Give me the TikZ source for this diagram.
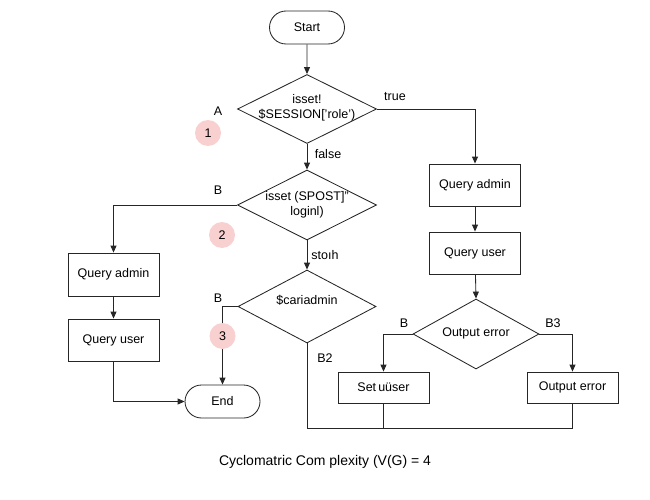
\documentclass[tikz,border=0pt]{standalone}
\usepackage{fontspec}
\setmainfont{Liberation Sans}
\usetikzlibrary{shapes.geometric,shapes.misc,arrows.meta}
\definecolor{numpink}{RGB}{249,208,208}
\begin{document}
\begin{tikzpicture}[x=1pt,y=-1pt,
  font=\fontsize{12.5}{14.5}\selectfont,
  line/.style={draw=black!85, line width=0.85pt},
  arr/.style={line, -{Triangle[length=7pt,width=6pt]}},
  term/.style={draw=black!85, line width=0.85pt, rounded rectangle, minimum width=75pt, minimum height=33pt, inner sep=0pt},
  procbox/.style={draw=black!85, line width=0.85pt, rectangle, minimum width=91pt, inner sep=0pt},
  dia/.style={draw=black!85, line width=0.85pt, diamond, inner sep=0pt},
  dtext/.style={align=center, inner sep=0pt},
  lbl/.style={inner sep=0pt},
  num/.style={circle, fill=numpink, minimum size=26pt, inner sep=0pt}
]
\useasboundingbox (0,0) rectangle (650,500);
% nodes
\node[term] (start) at (307,27.5) {Start};
\node[dia, minimum width=139pt, minimum height=69pt] (d1) at (307,109) {};
\node[dtext] (d1t) at (307,108) {isset!\\\$SESSION['role')};
\node[dia, minimum width=139pt, minimum height=70pt] (d2) at (307,205) {};
\node[dtext] (d2t) at (307,205) {isset (SPOST]"\\loginl)};
\node[dia, minimum width=138pt, minimum height=73pt] (d3) at (307,306.5) {};
\node[dtext] (d3t) at (307,300) {\$cariadmin};
\node[procbox, minimum height=42pt] (qa2) at (475,185) {Query admin};
\node[procbox, minimum height=42pt] (qu2) at (475,253) {Query user};
\node[dia, minimum width=126pt, minimum height=70pt] (d4) at (476,334) {};
\node[dtext] (d4t) at (476,333) {Output error};
\node[procbox, minimum height=31pt] (su) at (383.5,387.5) {Set\,uüser};
\node[procbox, minimum height=31pt] (oe) at (572.5,387.5) {Output error};
\node[procbox, minimum height=43pt] (qa1) at (113.5,274.5) {Query admin};
\node[procbox, minimum height=42pt] (qu1) at (113.5,340) {Query user};
\node[term] (end) at (222.5,401.5) {End};
\coordinate (j1) at (475,109);
\coordinate (j2) at (113.5,205);
\coordinate (j3) at (222.5,306.5);
\coordinate (j4) at (307,428);
\coordinate (j5) at (572.5,428);
\coordinate (j6) at (383.5,428);
\coordinate (j7) at (113.5,401.5);
\coordinate (j8) at (383.5,334);
\coordinate (j9) at (572.5,334);
% connectors
\draw[arr] (start) -- (d1.north);
\draw[arr] (d1.east) -- (j1) -- (qa2.north);
\draw[arr] (d1.south) -- (d2.north);
\draw[arr] (d2.west) -- (j2) -- (qa1.north);
\draw[arr] (d2.south) -- (d3.north);
\draw[arr] (d3.west) -- (j3) -- (end.north);
\draw[line] (d3.south) -- (j4) -- (j5);
\draw[line] (su.south) -- (j6);
\draw[line] (oe.south) -- (j5);
\draw[arr] (qa2) -- (qu2);
\draw[arr] (qu2) -- (d4.north);
\draw[arr] (d4.west) -- (j8) -- (su.north);
\draw[arr] (d4.east) -- (j9) -- (oe.north);
\draw[arr] (qa1) -- (qu1);
\draw[arr] (qu1.south) -- (j7) -- (end.west);
% labels
\node[lbl] (la) at (218,111) {A};
\node[lbl] (ltrue) at (395,97) {true};
\node[lbl] (lfalse) at (328,154) {false};
\node[lbl] (lb1) at (218,190) {B};
\node[lbl] (lstoih) at (325,255) {stoıh};
\node[lbl] (lb2) at (218,298) {B};
\node[lbl] (lb3) at (325,358) {B2};
\node[lbl] (lb4) at (404,323) {B};
\node[lbl] (lb5) at (553,323) {B3};
\node[num] (n1) at (208,133) {1};
\node[num] (n2) at (222,235) {2};
\node[num] (n3) at (222.5,336) {3};
\node[lbl, font=\fontsize{14}{16}\selectfont] (cap) at (325,462) {Cyclomatric Com plexity (V(G) = 4};
\end{tikzpicture}
\end{document}
